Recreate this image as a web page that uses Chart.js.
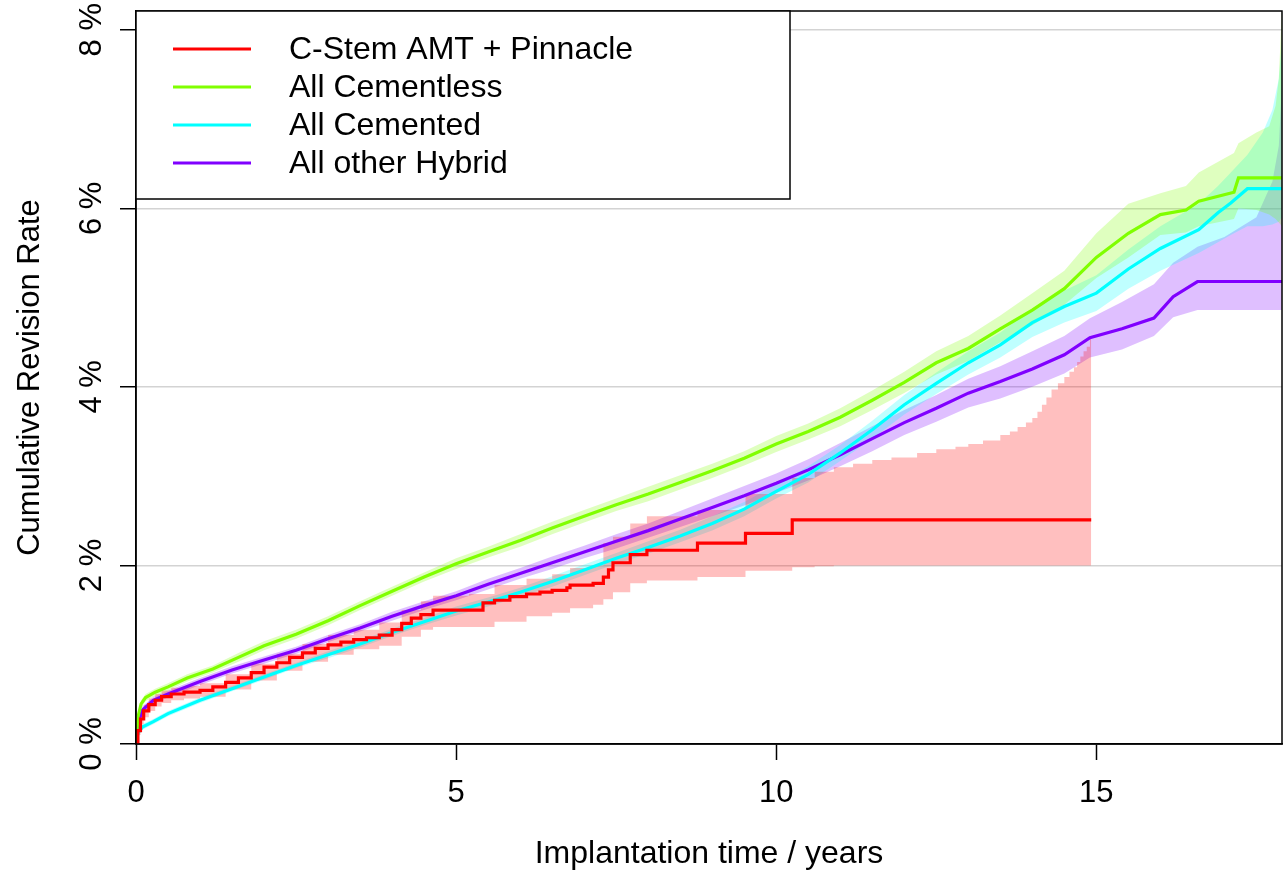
<!DOCTYPE html>
<html>
<head>
<meta charset="utf-8">
<script src="https://cdn.jsdelivr.net/npm/chart.js@4/dist/chart.umd.min.js"></script>
<style>
  html, body { margin: 0; padding: 0; background: #fff; }
  #wrap { width: 1287px; height: 872px; position: relative; }
</style>
</head>
<body>
<div id="wrap"><canvas id="chart"></canvas></div>
<script>
// Cumulative revision rate (%) by implantation time (years)

const SERIES_NAMES = ["C-Stem AMT + Pinnacle", "All Cementless", "All Cemented", "All other Hybrid"];
const SERIES_COLORS = ["#FF0000", "#80FF00", "#00FFFF", "#8000FF"];
const BAND_COLORS = ["rgba(255,0,0,0.25)", "rgba(128,255,0,0.25)", "rgba(0,255,255,0.25)", "rgba(128,0,255,0.25)"];

const X_TICKS = [0, 5, 10, 15];
const Y_TICKS = [0, 2, 4, 6, 8];
const Y_TICK_LABELS = ["0 %", "2 %", "4 %", "6 %", "8 %"];
const X_TITLE = "Implantation time / years";
const Y_TITLE = "Cumulative Revision Rate";

// C-Stem AMT + Pinnacle (step curve)
const RED_T = [0, 0.03, 0.07, 0.12, 0.2, 0.3, 0.4, 0.55, 0.75, 1.0, 1.2, 1.4, 1.6, 1.8, 2.0, 2.2, 2.4, 2.6, 2.8, 3.0,
  3.2, 3.4, 3.6, 3.8, 4.0, 4.15, 4.3, 4.45, 4.64, 5.2, 5.42, 5.6, 5.84, 6.1, 6.31, 6.5, 6.73, 6.78, 7.14, 7.3,
  7.38, 7.45, 7.72, 7.98, 8.77, 9.52, 10.25, 14.92];
const RED_V = [0, 0.15, 0.28, 0.37, 0.44, 0.49, 0.53, 0.56, 0.58, 0.60, 0.64, 0.69, 0.74, 0.80, 0.86, 0.91, 0.97, 1.02, 1.07, 1.11,
  1.14, 1.17, 1.19, 1.22, 1.28, 1.35, 1.41, 1.45, 1.50, 1.50, 1.58, 1.61, 1.65, 1.68, 1.70, 1.72, 1.75, 1.78, 1.80, 1.87,
  1.95, 2.03, 2.12, 2.17, 2.25, 2.36, 2.51, 2.51];
const RED_BAND_T = [0, 0.03, 0.07, 0.12, 0.2, 0.3, 0.4, 0.55, 0.75, 1.0, 1.4, 1.8, 2.2, 2.6, 3.0, 3.4, 3.8, 4.15, 4.45, 4.64,
  5.2, 5.6, 6.1, 6.5, 6.78, 7.14, 7.3, 7.45, 7.72, 7.98, 8.77, 9.52, 10.25, 10.6, 10.9, 11.2, 11.5, 11.8, 12.2, 12.5,
  12.8, 13.0, 13.23, 13.5, 13.65, 13.77, 13.9, 14.0, 14.08, 14.15, 14.22, 14.3, 14.4, 14.5, 14.58, 14.65, 14.7, 14.75, 14.8, 14.85,
  14.9, 14.92];
const RED_HI = [0, 0.20, 0.34, 0.44, 0.51, 0.56, 0.60, 0.63, 0.65, 0.68, 0.78, 0.90, 1.01, 1.12, 1.22, 1.28, 1.36, 1.50, 1.60, 1.66,
  1.68, 1.78, 1.85, 1.90, 1.97, 2.00, 2.25, 2.32, 2.47, 2.55, 2.62, 2.80, 2.98, 3.05, 3.10, 3.14, 3.18, 3.21, 3.26, 3.30,
  3.33, 3.36, 3.40, 3.46, 3.50, 3.55, 3.60, 3.65, 3.72, 3.80, 3.88, 3.97, 4.04, 4.11, 4.17, 4.22, 4.28, 4.34, 4.40, 4.45,
  4.55, 4.62];
const RED_LO = [0, 0.10, 0.22, 0.30, 0.37, 0.42, 0.46, 0.49, 0.51, 0.53, 0.61, 0.71, 0.82, 0.92, 1.00, 1.06, 1.10, 1.20, 1.28, 1.31,
  1.31, 1.37, 1.43, 1.47, 1.52, 1.56, 1.62, 1.70, 1.80, 1.83, 1.87, 1.94, 1.98, 1.99, 2.00, 2.00, 2.00, 2.00, 2.00, 2.00,
  2.00, 2.00, 2.00, 2.00, 2.00, 2.00, 2.00, 2.00, 2.00, 2.00, 2.00, 2.00, 2.00, 2.00, 2.00, 2.00, 2.00, 2.00, 2.00, 2.00,
  2.00, 2.00];

// All Cementless
const GREEN_T = [0, 0.03, 0.08, 0.15, 0.3, 0.5, 0.8, 1.2, 1.6, 2, 2.5, 3, 3.5, 4, 4.5, 5, 5.5, 6, 6.5, 7,
  7.5, 8, 8.5, 9, 9.5, 10, 10.5, 11, 11.5, 12, 12.5, 13, 13.5, 14, 14.5, 15, 15.5, 16, 16.4, 16.6,
  17.15, 17.22, 17.5, 17.7, 17.8, 17.85, 17.9];
const GREEN_V = [0, 0.30, 0.45, 0.52, 0.58, 0.64, 0.74, 0.84, 0.97, 1.10, 1.23, 1.38, 1.55, 1.71, 1.87, 2.02, 2.15, 2.28, 2.42, 2.55,
  2.68, 2.80, 2.93, 3.06, 3.20, 3.36, 3.50, 3.66, 3.85, 4.05, 4.27, 4.43, 4.65, 4.86, 5.10, 5.45, 5.72, 5.93, 5.98, 6.08,
  6.18, 6.34, 6.34, 6.34, 6.34, 6.34, 6.34];
const GREEN_HI = [0, 0.33, 0.49, 0.56, 0.62, 0.68, 0.78, 0.88, 1.02, 1.15, 1.28, 1.43, 1.60, 1.76, 1.92, 2.08, 2.21, 2.35, 2.49, 2.62,
  2.75, 2.88, 3.01, 3.14, 3.28, 3.45, 3.59, 3.76, 3.96, 4.17, 4.40, 4.57, 4.80, 5.05, 5.30, 5.72, 6.05, 6.17, 6.25, 6.40,
  6.62, 6.73, 6.85, 6.92, 7.15, 7.45, 8.25];
const GREEN_LO = [0, 0.27, 0.41, 0.48, 0.54, 0.60, 0.70, 0.80, 0.92, 1.05, 1.18, 1.33, 1.50, 1.66, 1.82, 1.96, 2.09, 2.21, 2.35, 2.48,
  2.61, 2.72, 2.85, 2.98, 3.12, 3.27, 3.41, 3.56, 3.74, 3.93, 4.14, 4.29, 4.50, 4.69, 4.92, 5.22, 5.45, 5.70, 5.73, 5.80,
  5.88, 6.00, 5.98, 5.93, 5.88, 5.84, 5.80];

// All Cemented
const CYAN_T = [0, 0.03, 0.1, 0.27, 0.5, 1, 1.5, 2, 2.5, 3, 3.5, 4, 4.5, 5, 5.5, 6, 6.5, 7, 7.5, 8,
  8.5, 9, 9.5, 10, 10.5, 11, 11.5, 12, 12.5, 13, 13.5, 14, 14.5, 15, 15.5, 16, 16.6, 16.9, 17.1, 17.36,
  17.6, 17.75, 17.85, 17.9];
const CYAN_V = [0, 0.12, 0.19, 0.25, 0.34, 0.49, 0.62, 0.75, 0.88, 1.00, 1.12, 1.25, 1.37, 1.49, 1.59, 1.70, 1.82, 1.95, 2.08, 2.20,
  2.33, 2.47, 2.63, 2.83, 3.02, 3.26, 3.52, 3.80, 4.04, 4.27, 4.47, 4.72, 4.90, 5.05, 5.32, 5.55, 5.76, 5.95, 6.06, 6.22,
  6.22, 6.22, 6.22, 6.22];
const CYAN_HI = [0, 0.14, 0.22, 0.28, 0.37, 0.52, 0.65, 0.78, 0.91, 1.04, 1.16, 1.29, 1.41, 1.54, 1.64, 1.75, 1.88, 2.01, 2.14, 2.27,
  2.40, 2.55, 2.71, 2.91, 3.11, 3.35, 3.62, 3.91, 4.16, 4.40, 4.61, 4.88, 5.08, 5.25, 5.54, 5.80, 6.05, 6.25, 6.40, 6.60,
  6.85, 7.10, 7.45, 7.90];
const CYAN_LO = [0, 0.10, 0.16, 0.22, 0.31, 0.46, 0.59, 0.72, 0.85, 0.96, 1.08, 1.21, 1.33, 1.44, 1.54, 1.65, 1.76, 1.89, 2.02, 2.13,
  2.26, 2.39, 2.55, 2.75, 2.93, 3.17, 3.42, 3.69, 3.92, 4.14, 4.33, 4.56, 4.72, 4.85, 5.10, 5.30, 5.50, 5.62, 5.70, 5.80,
  5.80, 5.82, 5.85, 5.90];

// All other Hybrid
const PURPLE_T = [0, 0.03, 0.1, 0.27, 0.5, 1, 1.5, 2, 2.5, 3, 3.5, 4, 4.5, 5, 5.5, 6, 6.5, 7, 7.5, 8,
  8.5, 9, 9.5, 10, 10.5, 11, 11.5, 12, 12.5, 13, 13.5, 14, 14.5, 14.9, 15.4, 15.9, 16.2, 16.58, 17.0, 17.5,
  17.75, 17.85, 17.9];
const PURPLE_V = [0, 0.22, 0.38, 0.49, 0.56, 0.70, 0.83, 0.94, 1.05, 1.18, 1.30, 1.43, 1.55, 1.66, 1.79, 1.91, 2.03, 2.15, 2.27, 2.39,
  2.52, 2.65, 2.78, 2.92, 3.07, 3.24, 3.42, 3.60, 3.76, 3.93, 4.06, 4.20, 4.36, 4.55, 4.65, 4.77, 5.01, 5.18, 5.18, 5.18,
  5.18, 5.18, 5.18];
const PURPLE_HI = [0, 0.25, 0.42, 0.53, 0.60, 0.74, 0.87, 0.98, 1.09, 1.22, 1.34, 1.48, 1.60, 1.71, 1.85, 1.97, 2.10, 2.22, 2.35, 2.47,
  2.61, 2.75, 2.89, 3.03, 3.19, 3.37, 3.56, 3.74, 3.91, 4.09, 4.23, 4.40, 4.57, 4.77, 4.95, 5.15, 5.39, 5.57, 5.68, 5.90,
  6.30, 6.70, 7.40];
const PURPLE_LO = [0, 0.19, 0.34, 0.45, 0.52, 0.66, 0.79, 0.90, 1.01, 1.14, 1.26, 1.38, 1.50, 1.61, 1.73, 1.85, 1.96, 2.08, 2.19, 2.31,
  2.43, 2.55, 2.67, 2.81, 2.95, 3.11, 3.28, 3.46, 3.61, 3.77, 3.87, 4.00, 4.15, 4.33, 4.42, 4.57, 4.78, 4.86, 4.86, 4.86,
  4.86, 4.86, 4.86];

const FONT = "'Liberation Sans', Arial, Helvetica, sans-serif";

function pts(xs, ys) {
  return xs.map((x, i) => ({ x: x, y: ys[i] }));
}

function lineSet(i, xs, ys, stepped) {
  return {
    label: SERIES_NAMES[i],
    data: pts(xs, ys),
    borderColor: SERIES_COLORS[i],
    borderWidth: 3.2,
    pointRadius: 0,
    fill: false,
    stepped: stepped,
    tension: 0,
  };
}

function bandSet(i, xs, ys, fill, stepped) {
  return {
    label: SERIES_NAMES[i] + " CI",
    data: pts(xs, ys),
    borderWidth: 0,
    borderColor: "rgba(0,0,0,0)",
    backgroundColor: BAND_COLORS[i],
    pointRadius: 0,
    fill: fill,
    stepped: stepped,
    tension: 0,
  };
}

const datasets = [
  lineSet(0, RED_T, RED_V, true),
  lineSet(1, GREEN_T, GREEN_V, false),
  lineSet(2, CYAN_T, CYAN_V, false),
  lineSet(3, PURPLE_T, PURPLE_V, false),
  bandSet(0, RED_BAND_T, RED_HI, "+1", true),
  bandSet(0, RED_BAND_T, RED_LO, false, true),
  bandSet(1, GREEN_T, GREEN_HI, "+1", false),
  bandSet(1, GREEN_T, GREEN_LO, false, false),
  bandSet(2, CYAN_T, CYAN_HI, "+1", false),
  bandSet(2, CYAN_T, CYAN_LO, false, false),
  bandSet(3, PURPLE_T, PURPLE_HI, "+1", false),
  bandSet(3, PURPLE_T, PURPLE_LO, false, false),
];

// frame, legend box and all text
const decor = {
  id: "decor",
  afterDraw(chart) {
    const ctx = chart.ctx;
    const a = chart.chartArea;
    const sx = chart.scales.x;
    const sy = chart.scales.y;
    ctx.save();

    // box round the plot
    ctx.strokeStyle = "#000";
    ctx.lineWidth = 1.5;
    ctx.strokeRect(a.left, a.top, a.right - a.left, a.bottom - a.top);

    // legend
    const lx = a.left, ly = a.top, lw = 654, lh = 188;
    ctx.fillStyle = "#fff";
    ctx.fillRect(lx, ly, lw, lh);
    ctx.strokeRect(lx, ly, lw, lh);
    ctx.font = "32px " + FONT;
    ctx.textAlign = "left";
    ctx.textBaseline = "middle";
    SERIES_NAMES.forEach((name, i) => {
      const y = ly + 38 + i * 38;
      ctx.strokeStyle = SERIES_COLORS[i];
      ctx.lineWidth = 3.2;
      ctx.beginPath();
      ctx.moveTo(lx + 37, y);
      ctx.lineTo(lx + 115, y);
      ctx.stroke();
      ctx.fillStyle = "#000";
      ctx.fillText(name, lx + 153, y + 1);
    });

    ctx.fillStyle = "#000";
    ctx.font = "31px " + FONT;

    // x tick labels
    ctx.textAlign = "center";
    ctx.textBaseline = "alphabetic";
    X_TICKS.forEach((t) => {
      ctx.fillText(String(t), sx.getPixelForValue(t), 802);
    });

    // y tick labels, rotated
    Y_TICKS.forEach((v, i) => {
      ctx.save();
      ctx.translate(101, sy.getPixelForValue(v));
      ctx.rotate(-Math.PI / 2);
      ctx.fillText(Y_TICK_LABELS[i], 0, 0);
      ctx.restore();
    });

    // axis titles
    ctx.font = "32px " + FONT;
    ctx.fillText(X_TITLE, (a.left + a.right) / 2, 863);
    ctx.font = "31px " + FONT;
    ctx.save();
    ctx.translate(39, (a.top + a.bottom) / 2);
    ctx.rotate(-Math.PI / 2);
    ctx.fillText(Y_TITLE, 0, 0);
    ctx.restore();

    ctx.restore();
  },
};

new Chart(document.getElementById("chart"), {
  type: "line",
  data: { datasets: datasets },
  options: {
    responsive: true,
    maintainAspectRatio: false,
    animation: false,
    layout: { padding: { top: 11, right: 5, left: 0, bottom: 0 } },
    plugins: {
      legend: { display: false },
      tooltip: { enabled: false },
      filler: { propagate: false },
    },
    scales: {
      x: {
        type: "linear",
        min: 0,
        max: 17.9,
        ticks: { stepSize: 5, display: false, includeBounds: false },
        grid: { drawOnChartArea: false, tickLength: 16, tickColor: "#000", tickWidth: 1.5 },
        border: { color: "#000", width: 1.5 },
        afterFit: (s) => { s.height = 128; },
      },
      y: {
        type: "linear",
        min: 0,
        max: 8.21,
        ticks: { stepSize: 2, display: false, includeBounds: false },
        grid: { color: "#d3d3d3", lineWidth: 1.5, tickLength: 16, tickColor: "#000", tickWidth: 1.5 },
        border: { color: "#000", width: 1.5 },
        afterFit: (s) => { s.width = 136; },
      },
    },
  },
  plugins: [decor],
});
</script>
</body>
</html>
